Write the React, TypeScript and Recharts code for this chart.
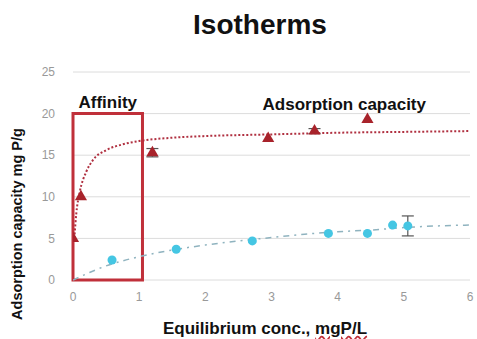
import {
  ComposedChart,
  Line,
  Scatter,
  XAxis,
  YAxis,
  CartesianGrid,
  ReferenceArea,
  ReferenceDot,
  ErrorBar,
} from "recharts";

// measured points (x = equilibrium conc., y = capacity, err = error bar)
const capacityX = [0, 0.12, 1.2, 2.95, 3.65, 4.45];
const capacityY = [5, 10, 15.3, 17, 17.9, 19.3];
const capacityErr = [0, 0, 0.5, 0, 0.3, 0];

const affinityX = [0.59, 1.56, 2.71, 3.86, 4.45, 4.83, 5.06];
const affinityY = [2.4, 3.7, 4.7, 5.6, 5.6, 6.6, 6.5];
const affinityErr = [0, 0, 0, 0, 0, 0, 1.2];

// fitted trend lines
const capFitX = [0.02, 0.05, 0.1, 0.2, 0.3, 0.5, 0.75, 1, 1.5, 2, 3, 4, 5, 6];
const capFitY = [5, 8, 10.5, 13, 14.4, 15.6, 16.3, 16.7, 17.1, 17.3, 17.5, 17.7, 17.8, 17.9];

const affFitX = [0, 0.25, 0.5, 0.75, 1, 1.5, 2, 2.5, 3, 3.5, 4, 4.5, 5, 5.5, 6];
const affFitY = [0, 0.9, 1.7, 2.3, 2.8, 3.6, 4.2, 4.7, 5.1, 5.5, 5.8, 6.0, 6.3, 6.5, 6.6];

const xTicks = [0, 1, 2, 3, 4, 5, 6];
const yTicks = [0, 5, 10, 15, 20, 25];

const RED = "#a8232b";
const BOX = "#c0303a";
const CYAN = "#45c6e3";
const FONT = "'Liberation Sans', Arial, sans-serif";

const zip = (xs: number[], ys: number[], es?: number[]) =>
  xs.map((x, i) => ({ x, y: ys[i], err: es ? es[i] : 0 }));

export default function App() {
  const capPts = zip(capacityX, capacityY, capacityErr);
  const affPts = zip(affinityX, affinityY, affinityErr);
  const capFit = zip(capFitX, capFitY);
  const affFit = zip(affFitX, affFitY);

  return (
    <div style={{ position: "absolute", left: 0, top: 0, width: 477, height: 339, background: "#fff", fontFamily: FONT }}>
      <div
        style={{
          position: "absolute",
          left: 160,
          width: 200,
          top: 8,
          lineHeight: "34px",
          textAlign: "center",
          fontSize: 28,
          fontWeight: "bold",
          color: "#111",
        }}
      >
        Isotherms
      </div>
      <div
        style={{
          position: "absolute",
          left: 17 - 140,
          top: 224 - 10,
          width: 280,
          height: 20,
          lineHeight: "20px",
          textAlign: "center",
          transform: "rotate(-90deg)",
          whiteSpace: "nowrap",
          fontSize: 14.5,
          fontWeight: "bold",
          color: "#111",
        }}
      >
        Adsorption capacity mg P/g
      </div>
      <div
        style={{
          position: "absolute",
          left: 163,
          top: 318,
          lineHeight: "22px",
          whiteSpace: "nowrap",
          fontSize: 17,
          fontWeight: "bold",
          color: "#111",
        }}
      >
        Equilibrium conc.,{" "}
        <span style={{ textDecoration: "underline wavy #c0303a", textUnderlineOffset: 1 }}>mgP/L</span>
      </div>
      <ComposedChart
        width={477}
        height={339}
        margin={{ top: 72, right: 7, bottom: 29, left: 43 }}
        style={{ position: "absolute", left: 0, top: 0 }}
      >
        <CartesianGrid vertical={false} stroke="#dcdcdc" />
        <XAxis
          type="number"
          dataKey="x"
          domain={[0, 6]}
          ticks={xTicks}
          axisLine={false}
          tickLine={false}
          tickSize={0}
          tickMargin={12}
          height={30}
          tick={{ fill: "#999", fontSize: 12, fontFamily: FONT }}
          allowDataOverflow
        />
        <YAxis
          type="number"
          dataKey="y"
          domain={[0, 25]}
          ticks={yTicks}
          axisLine={false}
          tickLine={false}
          tickSize={0}
          tickMargin={18}
          width={30}
          tick={{ fill: "#999", fontSize: 12, fontFamily: FONT }}
        />
        <ReferenceArea
          x1={0}
          x2={1.05}
          y1={0}
          y2={20}
          fill="none"
          stroke={BOX}
          strokeWidth={3}
          ifOverflow="visible"
          label={{
            value: "Affinity",
            position: "top",
            offset: 6,
            fill: "#111",
            fontSize: 17,
            fontWeight: "bold",
            fontFamily: FONT,
          }}
        />
        <ReferenceDot
          x={4.1}
          y={21.2}
          r={0}
          stroke="none"
          fill="none"
          label={{
            value: "Adsorption capacity",
            position: "center",
            fill: "#111",
            fontSize: 17,
            fontWeight: "bold",
            fontFamily: FONT,
          }}
        />
        <Line
          data={affFit}
          dataKey="y"
          type="monotone"
          stroke="#8fb3bf"
          strokeWidth={1.5}
          strokeDasharray="6 5 2 5"
          dot={false}
          activeDot={false}
          isAnimationActive={false}
        />
        <Line
          data={capFit}
          dataKey="y"
          type="monotone"
          stroke="#b03040"
          strokeWidth={2}
          strokeDasharray="2 2"
          dot={false}
          activeDot={false}
          isAnimationActive={false}
        />
        <Scatter data={affPts} dataKey="y" fill={CYAN} shape="circle" isAnimationActive={false}>
          <ErrorBar dataKey="err" direction="y" width={6} stroke="#555" strokeWidth={1.2} />
        </Scatter>
        <Scatter data={capPts} dataKey="y" fill={RED} shape="triangle" isAnimationActive={false}>
          <ErrorBar dataKey="err" direction="y" width={6} stroke="#555" strokeWidth={1.2} />
        </Scatter>
      </ComposedChart>
    </div>
  );
}
